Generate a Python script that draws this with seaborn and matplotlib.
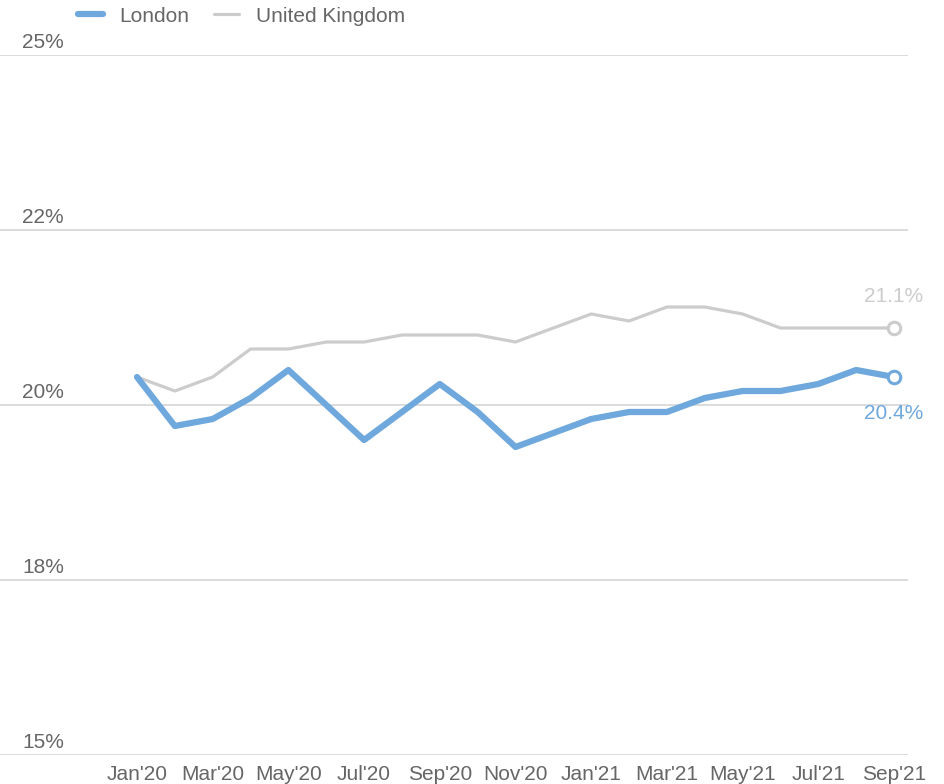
import matplotlib
matplotlib.use('Agg')
import matplotlib.pyplot as plt
import matplotlib.transforms as mtransforms
import pandas as pd
import seaborn as sns

# Data (in %)
months = ["Jan'20", "Feb'20", "Mar'20", "Apr'20", "May'20", "Jun'20", "Jul'20",
          "Aug'20", "Sep'20", "Oct'20", "Nov'20", "Dec'20", "Jan'21", "Feb'21",
          "Mar'21", "Apr'21", "May'21", "Jun'21", "Jul'21", "Aug'21", "Sep'21"]
london = [20.4, 19.7, 19.8, 20.1, 20.5, 20.0, 19.5, 19.9, 20.3, 19.9, 19.4,
          19.6, 19.8, 19.9, 19.9, 20.1, 20.2, 20.2, 20.3, 20.5, 20.4]
uk = [20.4, 20.2, 20.4, 20.8, 20.8, 20.9, 20.9, 21.0, 21.0, 21.0, 20.9,
      21.1, 21.3, 21.2, 21.4, 21.4, 21.3, 21.1, 21.1, 21.1, 21.1]
y_ticks = [15, 17.5, 20, 22.5, 25]
y_tick_labels = ['15%', '18%', '20%', '22%', '25%']

blue = '#6fa8dc'
grey = '#cccccc'
text_grey = '#666666'

df = pd.DataFrame({'idx': range(len(months)), 'month': months,
                   'London': london, 'United Kingdom': uk})

sns.set_style('white')
plt.rcParams['font.family'] = ['Liberation Sans', 'DejaVu Sans']

fig = plt.figure(figsize=(9.44, 7.84), dpi=100)
ax = fig.add_axes([0, 29 / 784, 908 / 944, 700 / 784])

sns.lineplot(data=df, x='idx', y='United Kingdom', ax=ax, color=grey, linewidth=2.3,
             label='United Kingdom', zorder=3)
sns.lineplot(data=df, x='idx', y='London', ax=ax, color=blue, linewidth=4.5,
             label='London', zorder=4)

# open circles at the last point
last = len(months) - 1
ax.plot(last, uk[-1], 'o', ms=9, mfc='white', mec=grey, mew=2.2, zorder=5)
ax.plot(last, london[-1], 'o', ms=9, mfc='white', mec=blue, mew=2.2, zorder=6)
ax.annotate(f'{uk[-1]:.1f}%', (last, uk[-1]), xytext=(0, 23), textcoords='offset points',
            ha='center', va='center', color=grey, fontsize=15)
ax.annotate(f'{london[-1]:.1f}%', (last, london[-1]), xytext=(0, -26), textcoords='offset points',
            ha='center', va='center', color=blue, fontsize=15)

ax.set_xlim(-137 / 37.85, (908 - 137) / 37.85)
ax.set_ylim(15, 25)
ax.set_xticks(range(0, len(months), 2))
ax.set_xticklabels(months[::2])
ax.set_yticks(y_ticks)
ax.set_yticklabels(y_tick_labels)
ax.set_xlabel('')
ax.set_ylabel('')

ax.grid(axis='y', color='#d9d9d9', linewidth=1.3)
ax.grid(axis='x', visible=False)
for s in ax.spines.values():
    s.set_visible(False)

ax.tick_params(axis='x', length=0, pad=7, labelsize=15, labelcolor=text_grey)
ax.tick_params(axis='y', length=0, pad=-16, labelsize=15, labelcolor=text_grey)
shift = mtransforms.ScaledTranslation(0, 3 / 100, fig.dpi_scale_trans)
for lab in ax.get_yticklabels():
    lab.set_horizontalalignment('left')
    lab.set_verticalalignment('bottom')
    lab.set_transform(lab.get_transform() + shift)

handles, labels = ax.get_legend_handles_labels()
order = [labels.index('London'), labels.index('United Kingdom')]
leg = ax.legend([handles[i] for i in order], [labels[i] for i in order],
                loc='center left', bbox_to_anchor=(59 / 944, 1 - 16 / 784),
                bbox_transform=fig.transFigure, ncol=2, frameon=False,
                fontsize=15, handlelength=1.2, columnspacing=1.2, handletextpad=0.8,
                labelcolor=text_grey)

fig.savefig('out.png', dpi=100)
